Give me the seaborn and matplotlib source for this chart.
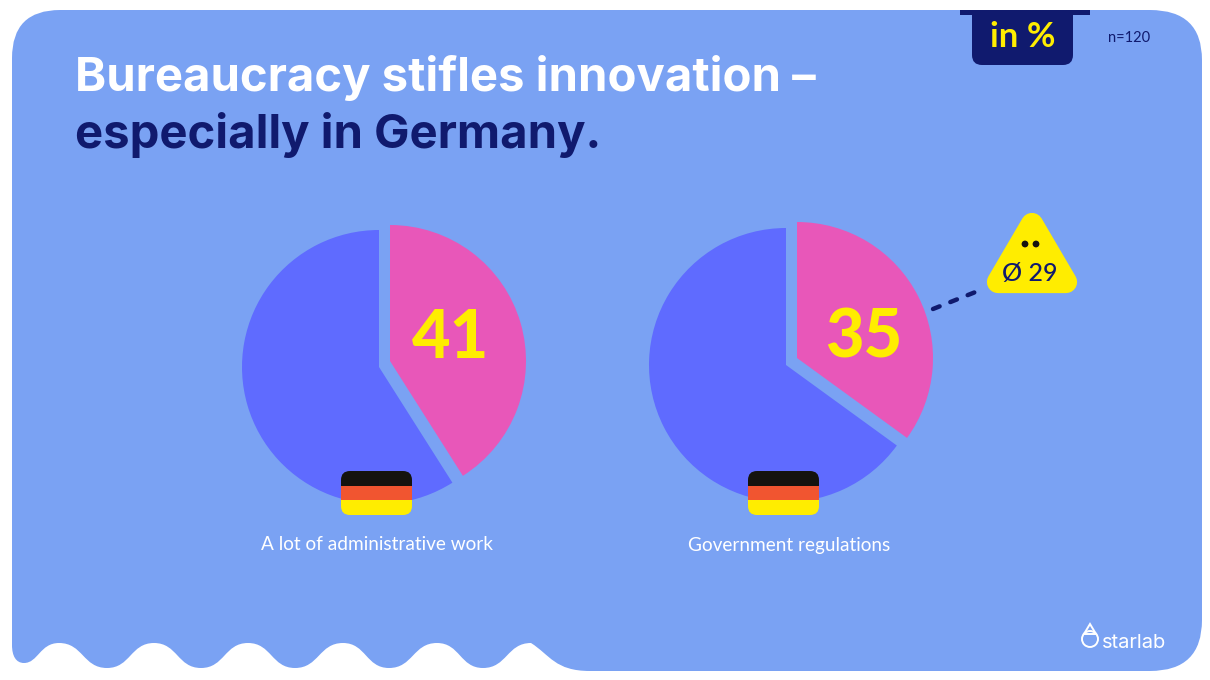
import matplotlib
matplotlib.use('Agg')
import matplotlib.pyplot as plt
from matplotlib.patches import FancyBboxPatch, PathPatch, Polygon, Rectangle, Circle
from matplotlib.path import Path
import seaborn as sns

# values
labels = ['A lot of administrative work', 'Government regulations']
germany = [41, 35]
rest = [59, 65]
average = 29
n_label = 'n=120'
title_top = 'Bureaucracy stifles innovation –'
title_bottom = 'especially in Germany.'

# colours
bg = '#7aa2f3'
blue = '#5f6bff'
pink = '#e857b9'
yellow = '#ffed00'
navy = '#101a6e'

sns.set_theme(style='white')
plt.rcParams['font.family'] = ['Lato', 'DejaVu Sans']

W, H = 1210, 680
fig = plt.figure(figsize=(W / 100, H / 100), dpi=100, facecolor='white')
ax = fig.add_axes([0, 0, 1, 1])


def py(y):
    # picture pixels count from the top, the axes from the bottom
    return H - y


# background card with the wavy bottom edge
crests = [59, 154, 248, 343, 437, 531]
troughs = [107, 201, 295, 389, 483]
verts = [(60, py(10)), (1150, py(10)), (1202, py(10)), (1202, py(60)),
         (1202, py(620)), (1202, py(671)), (1150, py(671)),
         (590, py(671))]
codes = [Path.MOVETO, Path.LINETO, Path.CURVE3, Path.CURVE3,
         Path.LINETO, Path.CURVE3, Path.CURVE3, Path.LINETO]
verts += [(555, py(671)), (550, py(655)), (531, py(643))]
codes += [Path.CURVE4] * 3
wave = [(c, 643) for c in crests]
points = []
for i, c in enumerate(crests[::-1]):
    points.append((c, 643))
    if i < len(troughs):
        points.append((troughs[::-1][i], 668))
for (x0, y0), (x1, y1) in zip(points[:-1], points[1:]):
    mid = (x0 + x1) / 2
    verts += [(mid, py(y0)), (mid, py(y1)), (x1, py(y1))]
    codes += [Path.CURVE4] * 3
verts += [(40, py(643)), (38, py(663)), (24, py(663))]
codes += [Path.CURVE4] * 3
verts += [(16, py(663)), (12, py(656)), (12, py(645))]
codes += [Path.CURVE4] * 3
verts += [(12, py(58)), (12, py(10)), (60, py(10)), (60, py(10))]
codes += [Path.LINETO, Path.CURVE3, Path.CURVE3, Path.CLOSEPOLY]
ax.add_patch(PathPatch(Path(verts, codes), facecolor=bg, edgecolor='none', zorder=0))

# pies, the pink piece sits apart from the blue one
blue_centers = [(379, 367), (786, 365)]
pink_centers = [(390, 361), (797, 358)]
for i in range(2):
    ax.pie([germany[i], rest[i]], colors=['none', blue], startangle=90, counterclock=False,
           center=(blue_centers[i][0], py(blue_centers[i][1])), radius=137,
           wedgeprops={'linewidth': 0}, frame=True)
    ax.pie([germany[i], rest[i]], colors=[pink, 'none'], startangle=90, counterclock=False,
           center=(pink_centers[i][0], py(pink_centers[i][1])), radius=136,
           wedgeprops={'linewidth': 0}, frame=True)

ax.set_xlim(0, W)
ax.set_ylim(0, H)
ax.set_aspect('equal')
ax.axis('off')

# numbers on the pink pieces
ax.text(451, py(339), str(germany[0]), color=yellow, fontsize=48, fontweight=900,
        ha='center', va='center', zorder=5)
ax.text(864, py(339), str(germany[1]), color=yellow, fontsize=48, fontweight=900,
        ha='center', va='center', zorder=5)

# flags
for x in [341, 748]:
    clip = FancyBboxPatch((x + 9, py(515) + 9), 71 - 18, 44 - 18,
                          boxstyle='round,pad=9,rounding_size=9',
                          facecolor='none', edgecolor='none', zorder=6)
    ax.add_patch(clip)
    for y0, y1, col in [(471, 486, '#15130f'), (486, 500, '#f15530'), (500, 515, yellow)]:
        r = Rectangle((x, py(y1)), 71, y1 - y0, facecolor=col, edgecolor='none', zorder=6)
        ax.add_patch(r)
        r.set_clip_path(clip)

# labels under the pies
ax.text(377, py(545), labels[0], color='white', fontsize=13.7, ha='center', va='center')
ax.text(789, py(545), labels[1], color='white', fontsize=13.7, ha='center', va='center')

# title
ax.text(75, py(78), title_top, color='white', fontsize=34, fontweight='bold',
        family='Inter', ha='left', va='center')
ax.text(75, py(135), title_bottom, color=navy, fontsize=34, fontweight='bold',
        family='Inter', ha='left', va='center')

# unit tab and n
ax.add_patch(FancyBboxPatch((972 + 10, py(65) + 10), 101 - 20, 60,
                            boxstyle='round,pad=10,rounding_size=10',
                            facecolor=navy, edgecolor='none', zorder=3))
ax.add_patch(Rectangle((960, py(10)), 130, 20, facecolor='white', edgecolor='none', zorder=4))
ax.add_patch(Rectangle((960, py(10) - 5), 130, 5, facecolor=navy, edgecolor='none', zorder=4))
ax.text(1023, py(37), 'in %', color=yellow, fontsize=25, fontweight='bold',
        ha='center', va='center', zorder=5)
ax.text(1129, py(38), n_label, color=navy, fontsize=10.5, ha='center', va='center')

# average marker with dotted connector
ax.plot([933, 978], [py(309), py(291)], color=navy, lw=3.2, zorder=2,
        linestyle=(0, (1.6, 2.6)), dash_capstyle='round')
ax.add_patch(Polygon([(998, py(282)), (1066, py(282)), (1032, py(224))], closed=True,
                     facecolor=yellow, edgecolor=yellow, lw=16, joinstyle='round', zorder=3))
ax.add_patch(Circle((1025, py(244)), 3.4, facecolor='#15130f', edgecolor='none', zorder=4))
ax.add_patch(Circle((1036, py(244)), 3.4, facecolor='#15130f', edgecolor='none', zorder=4))
ax.text(1029.5, py(274), 'Ø %d' % average, color=navy, fontsize=18, fontweight='medium',
        ha='center', va='center', zorder=5)

# logo
ax.add_patch(Circle((1090, py(639)), 8, facecolor='none', edgecolor='white', lw=1.4, zorder=4))
ax.add_patch(Polygon([(1084, py(634)), (1096, py(634)), (1090, py(624))], closed=True,
                     facecolor='none', edgecolor='white', lw=1.4, zorder=4))
ax.text(1102, py(643), 'starlab', color='white', fontsize=14.5, family='Inter',
        ha='left', va='center', zorder=5)

fig.savefig('out.png', dpi=100, facecolor='white')
